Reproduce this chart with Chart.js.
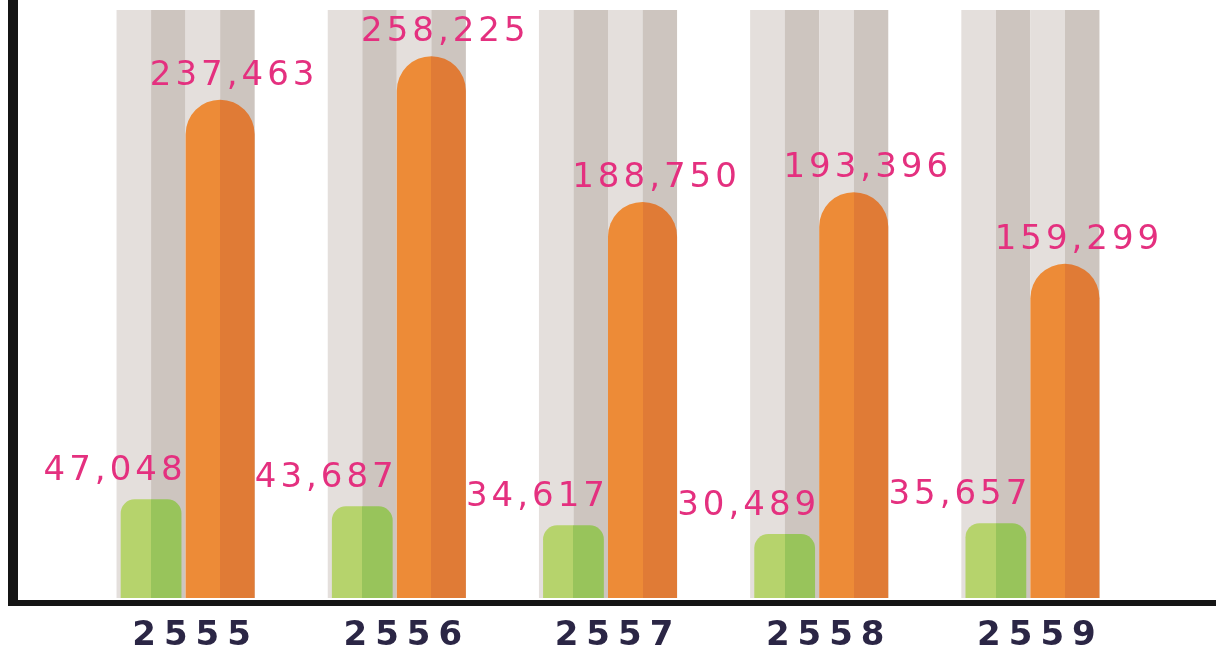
<!DOCTYPE html>
<html>
<head>
<meta charset="utf-8">
<script src="https://cdn.jsdelivr.net/npm/chart.js@4"></script>
<style>
  body { margin: 0; background: #fff; }
  #wrap { width: 1216px; height: 655px; }
</style>
</head>
<body>
<div id="wrap"><canvas id="chart"></canvas></div>
<script>
const categories = ["2555", "2556", "2557", "2558", "2559"];
const greenValues = [47048, 43687, 34617, 30489, 35657];
const orangeValues = [237463, 258225, 188750, 193396, 159299];

const tones = [
  { light: "#b6d36c", dark: "#98c45b" },
  { light: "#ed8b37", dark: "#e07b36" }
];
const trackLight = "#e4dfdc";
const trackDark = "#cdc5bf";
const labelOffsets = [{ dx: -36, dy: -28 }, { dx: 14, dy: -24 }];

// grey tubes behind each bar, and two-tone fill on the bars
const tubes = {
  id: "tubes",
  beforeDatasetsDraw(chart) {
    const ctx = chart.ctx;
    const area = chart.chartArea;
    ctx.letterSpacing = "0px";
    const slotW = chart.getDatasetMeta(1).data[0].width;
    chart.data.datasets.forEach((ds, di) => {
      chart.getDatasetMeta(di).data.forEach(el => {
        const top = area.top + 10;
        const h = area.bottom - top;
        ctx.fillStyle = trackLight;
        ctx.fillRect(el.x - slotW / 2, top, slotW / 2, h);
        ctx.fillStyle = trackDark;
        ctx.fillRect(el.x, top, slotW / 2, h);
      });
    });
    chart.data.datasets.forEach((ds, di) => {
      chart.getDatasetMeta(di).data.forEach(el => {
        const g = ctx.createLinearGradient(el.x - el.width / 2, 0, el.x + el.width / 2, 0);
        g.addColorStop(0, tones[di].light);
        g.addColorStop(0.5, tones[di].light);
        g.addColorStop(0.5, tones[di].dark);
        g.addColorStop(1, tones[di].dark);
        el.options = Object.assign({}, el.options, { backgroundColor: g });
      });
    });
  },
  afterDatasetsDraw(chart) {
    const ctx = chart.ctx;
    const area = chart.chartArea;
    // value labels
    ctx.save();
    ctx.font = "34px 'DejaVu Sans'";
    ctx.letterSpacing = "4px";
    ctx.fillStyle = "#e4307f";
    ctx.textAlign = "center";
    ctx.textBaseline = "middle";
    chart.data.datasets.forEach((ds, di) => {
      chart.getDatasetMeta(di).data.forEach((el, i) => {
        const txt = ds.data[i].toLocaleString("en-US");
        ctx.fillText(txt, el.x + labelOffsets[di].dx, el.y + labelOffsets[di].dy);
      });
    });
    ctx.restore();
    // thick axes
    ctx.fillStyle = "#151515";
    ctx.fillRect(8, area.bottom + 2, chart.width - 8, 6);
    ctx.fillRect(8, 0, 10, area.bottom + 8);
  }
};

const spacing = {
  id: "spacing",
  beforeDraw(chart) {
    chart.ctx.letterSpacing = "8px";
  }
};

new Chart(document.getElementById("chart"), {
  type: "bar",
  data: {
    labels: categories,
    datasets: [
      {
        label: "green",
        data: greenValues,
        backgroundColor: tones[0].light,
        barPercentage: 0.88,
        categoryPercentage: 0.654,
        borderRadius: 14,
        borderSkipped: "start"
      },
      {
        label: "orange",
        data: orangeValues,
        backgroundColor: tones[1].light,
        barPercentage: 1,
        categoryPercentage: 0.654,
        borderRadius: 40,
        borderSkipped: "start"
      }
    ]
  },
  options: {
    responsive: true,
    maintainAspectRatio: false,
    animation: false,
    layout: { padding: { left: 80, right: 80, top: 0, bottom: 0 } },
    plugins: { legend: { display: false }, tooltip: { enabled: false } },
    scales: {
      x: {
        grid: { display: false, drawTicks: false },
        border: { display: false },
        ticks: {
          padding: 18,
          labelOffset: 10,
          color: "#2b2645",
          font: { family: "DejaVu Sans", size: 34, weight: "bold" }
        },
        afterFit(scale) { scale.height = 57; }
      },
      y: {
        display: false,
        beginAtZero: true,
        max: 285000
      }
    }
  },
  plugins: [tubes, spacing]
});
</script>
</body>
</html>
